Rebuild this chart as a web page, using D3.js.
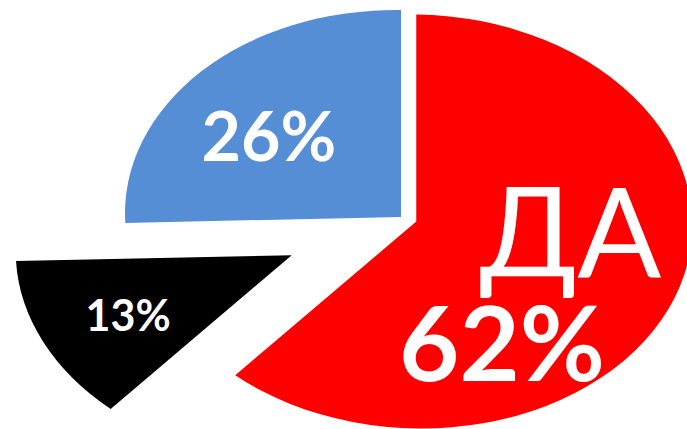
<!DOCTYPE html>
<meta charset="utf-8">
<style>
body { margin: 0; background: #fff; }
svg { display: block; }
.pct { fill: #fff; font-family: Lato, "Open Sans", sans-serif; font-weight: bold; text-anchor: middle; }
.cat { fill: #fff; font-family: Lato, "Open Sans", sans-serif; font-weight: normal; text-anchor: middle; }
</style>
<body>
<script src="https://cdn.jsdelivr.net/npm/d3@7"></script>
<script>

// data, clockwise from 12 o'clock
var categories = ["ДА", "", ""];
var values = [62, 13, 26];
var labels = ["62%", "13%", "26%"];
var colors = ["#ff0000", "#000000", "#558ed5"];

var W = 687, H = 429;
var R = 100;               // pie drawn in circle space, then stretched
var cx = 401, cy = 217;    // centre of the ellipse
var sx = 2.76, sy = 2.07, skew = 0.0375;
var explode = [5.9, 44, 0];

// label placement in circle space, relative to each slice's tip: [angle deg, radius]
var pctPos = [[151.9, 66], [242.9, 66.6], [308.3, 61]];
var catPos = [94.2, 56];

var svg = d3.select("body").append("svg")
    .attr("width", W)
    .attr("height", H);

var pie = d3.pie().sort(null).value(function(d) { return d; });
var arc = d3.arc().innerRadius(0).outerRadius(R);
var arcs = pie(values);

// circle space -> screen
function toScreen(p) {
    return [cx + sx * p[0], cy + skew * p[0] + sy * p[1]];
}
function polar(a, r) {
    var t = a * Math.PI / 180;
    return [r * Math.sin(t), -r * Math.cos(t)];
}
function tip(d, i) {
    var mid = (d.startAngle + d.endAngle) / 2 * 180 / Math.PI;
    return polar(mid, explode[i]);
}

var g = svg.append("g")
    .attr("transform", "matrix(" + [sx, skew, 0, sy, cx, cy].join(",") + ")");

g.selectAll("path")
    .data(arcs)
  .enter().append("path")
    .attr("d", arc)
    .attr("fill", function(d, i) { return colors[i]; })
    .attr("transform", function(d, i) {
        var t = tip(d, i);
        return "translate(" + t[0] + "," + t[1] + ")";
    });

// percentage labels
var pctSize = [104, 43, 68];
svg.selectAll("text.pct")
    .data(arcs)
  .enter().append("text")
    .attr("class", "pct")
    .style("font-size", function(d, i) { return pctSize[i] + "px"; })
    .attr("dy", "0.36em")
    .attr("x", function(d, i) {
        var t = tip(d, i), p = polar(pctPos[i][0], pctPos[i][1]);
        return toScreen([t[0] + p[0], t[1] + p[1]])[0];
    })
    .attr("y", function(d, i) {
        var t = tip(d, i), p = polar(pctPos[i][0], pctPos[i][1]);
        return toScreen([t[0] + p[0], t[1] + p[1]])[1];
    })
    .text(function(d, i) { return labels[i]; });

// category name on the big slice
var t0 = tip(arcs[0], 0), c0 = polar(catPos[0], catPos[1]);
var cp = toScreen([t0[0] + c0[0], t0[1] + c0[1]]);
svg.append("text")
    .attr("class", "cat")
    .style("font-size", "124px")
    .attr("x", cp[0])
    .attr("y", cp[1])
    .attr("dy", "0.36em")
    .text(categories[0]);

</script>
</body>
